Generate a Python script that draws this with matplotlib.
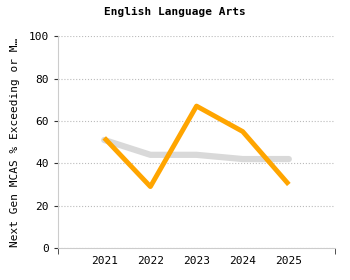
import matplotlib
matplotlib.use("Agg")
import matplotlib.pyplot as plt

years = [2021, 2022, 2023, 2024, 2025]
school = [52, 29, 67, 55, 30]
state = [51, 44, 44, 42, 42]
yticks = [0, 20, 40, 60, 80, 100]

plt.rcParams['font.family'] = ['DejaVu Sans Mono']

fig = plt.figure(figsize=(3.5, 2.8), dpi=100)
ax = fig.add_axes([0.166, 0.114, 0.791, 0.757])

ax.plot(years, state, color='#d9d9d9', lw=4.5, solid_capstyle='round', zorder=2)
ax.plot(years, school, color='#ffa500', lw=3.5, solid_capstyle='butt', zorder=3)

ax.set_xlim(2020, 2026)
ax.set_ylim(0, 100)
ax.set_yticks(yticks)
ax.set_xticks(years)
ax.set_xticks([2020, 2026], minor=True)
ax.tick_params(axis='x', which='major', length=0, labelsize=8, pad=6)
ax.tick_params(axis='x', which='minor', length=4, color='#333333')
ax.tick_params(axis='y', length=3, labelsize=8, color='#333333')
ax.yaxis.grid(True, linestyle=':', color='#bbbbbb', lw=0.8)
ax.set_axisbelow(True)
for s in ['top', 'right']:
    ax.spines[s].set_visible(False)
ax.spines['left'].set_color('#cccccc')
ax.spines['bottom'].set_color('#cccccc')

ax.set_ylabel('Next Gen MCAS % Exceeding or M\u2026', fontsize=8, labelpad=6)
fig.suptitle('English Language Arts', fontsize=8, fontweight='bold', y=0.975)

fig.savefig('out.png', dpi=100)
